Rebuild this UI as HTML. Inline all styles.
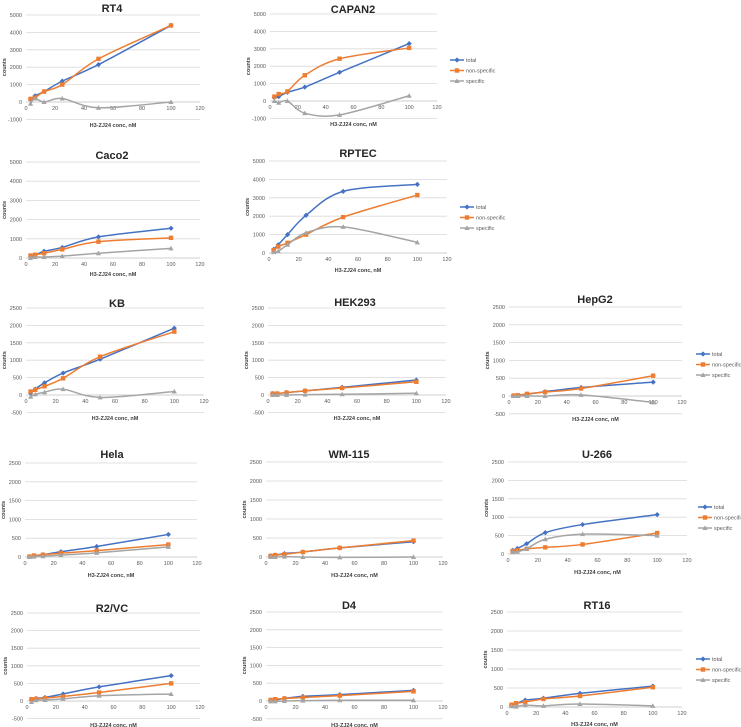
<!DOCTYPE html>
<html><head><meta charset="utf-8">
<style>
html,body{margin:0;padding:0;background:#fff;}
svg{display:block;font-family:"Liberation Sans",sans-serif;}
</style></head>
<body>
<svg id="c" width="741" height="727" viewBox="0 0 741 727"></svg>
<script>
const xValues = [3.125, 6.25, 12.5, 25, 50, 100];
const xTicks = [0, 20, 40, 60, 80, 100, 120];
const panelNames = ["RT4","CAPAN2","Caco2","RPTEC","KB","HEK293","HepG2","Hela","WM-115","U-266","R2/VC","D4","RT16"];
const totalRT4 = [150, 350, 600, 1200, 2150, 4400];
const nonRT4 = [180, 250, 600, 1000, 2480, 4400];
const specRT4 = [-100, 200, 0, 200, -330, 0];
const totalCAPAN2 = [200, 250, 500, 800, 1650, 3300];
const nonCAPAN2 = [250, 400, 550, 1480, 2430, 3050];
const specCAPAN2 = [0, -100, 0, -700, -800, 300];
const totalCaco2 = [100, 150, 350, 550, 1100, 1550];
const nonCaco2 = [130, 170, 250, 450, 850, 1050];
const specCaco2 = [0, 50, 50, 100, 250, 500];
const totalRPTEC = [200, 450, 1000, 2050, 3350, 3730];
const nonRPTEC = [150, 350, 550, 1000, 1950, 3150];
const specRPTEC = [50, 100, 450, 1100, 1420, 580];
const totalKB = [50, 170, 350, 630, 1030, 1920];
const nonKB = [100, 150, 250, 480, 1100, 1820];
const specKB = [-50, 20, 80, 170, -70, 100];
const totalHEK = [40, 40, 70, 120, 220, 430];
const nonHEK = [40, 40, 70, 120, 200, 380];
const specHEK = [0, 0, 0, 10, 20, 50];
const totalHepG2 = [10, 20, 50, 120, 240, 390];
const nonHepG2 = [10, 20, 60, 110, 210, 570];
const specHepG2 = [0, 0, 0, 0, 30, -180];
const totalHela = [10, 30, 60, 140, 280, 600];
const nonHela = [10, 40, 60, 100, 170, 330];
const specHela = [0, 10, 20, 50, 110, 270];
const totalWM = [30, 50, 90, 130, 240, 400];
const nonWM = [30, 50, 70, 130, 240, 430];
const specWM = [0, 0, 10, 0, -10, 0];
const totalU266 = [100, 150, 280, 580, 800, 1070];
const nonU266 = [80, 100, 140, 180, 260, 570];
const specU266 = [50, 60, 140, 400, 540, 500];
const totalR2 = [30, 70, 100, 200, 400, 720];
const nonR2 = [50, 60, 80, 130, 240, 500];
const specR2 = [-30, 20, 30, 60, 150, 200];
const totalD4 = [20, 30, 70, 130, 180, 300];
const nonD4 = [30, 50, 70, 100, 150, 270];
const specD4 = [-10, -10, 0, 10, 20, 20];
const totalRT16 = [50, 80, 180, 230, 360, 550];
const nonRT16 = [60, 100, 130, 210, 290, 520];
const specRT16 = [20, 10, 50, 30, 80, 30];
const yMaxes = [5000,5000,5000,5000,2500,2500,2500,2500,2500,2500,2500,2500,2500];
const yMins = [-1000,-1000,0,0,-500,-500,-500,0,0,0,-500,-500,0];
const yStepsArr = [1000,1000,1000,1000,500,500,500,500,500,500,500,500,500];
const seriesTotal = [totalRT4,totalCAPAN2,totalCaco2,totalRPTEC,totalKB,totalHEK,totalHepG2,totalHela,totalWM,totalU266,totalR2,totalD4,totalRT16];
const seriesNon = [nonRT4,nonCAPAN2,nonCaco2,nonRPTEC,nonKB,nonHEK,nonHepG2,nonHela,nonWM,nonU266,nonR2,nonD4,nonRT16];
const seriesSpec = [specRT4,specCAPAN2,specCaco2,specRPTEC,specKB,specHEK,specHepG2,specHela,specWM,specU266,specR2,specD4,specRT16];
const legendLabels = ["total","non-specific","specific"];

// layout (pixels)
const layout = [
 {x0:26,x1:200,yT:15,y0:102,tx:112,ty:8,at:125,leg:null},
 {x0:270,x1:437,yT:14,y0:101,tx:353,ty:9,at:124,leg:[450,60]},
 {x0:26,x1:200,yT:162,y0:258,tx:112,ty:155,at:274,leg:null},
 {x0:269,x1:447,yT:161,y0:253,tx:358,ty:153,at:270,leg:[460,207]},
 {x0:26,x1:204,yT:308,y0:395,tx:117,ty:303,at:418,leg:null},
 {x0:268,x1:446,yT:308,y0:395,tx:355,ty:302,at:418,leg:null},
 {x0:509,x1:682,yT:307,y0:396,tx:595,ty:299,at:419,leg:[696,354]},
 {x0:25,x1:197,yT:463,y0:557,tx:112,ty:454,at:575,leg:null},
 {x0:266,x1:443,yT:462,y0:557,tx:349,ty:454,at:575,leg:null},
 {x0:508,x1:687,yT:462,y0:554,tx:597,ty:454,at:572,leg:[698,507]},
 {x0:27,x1:200,yT:613,y0:701,tx:112,ty:608,at:725,leg:null},
 {x0:266,x1:443,yT:612,y0:701,tx:349,ty:605,at:725,leg:null},
 {x0:507,x1:682,yT:612,y0:707,tx:597,ty:605,at:724,leg:[696,659]}
];
const colors = ["#4472c4","#ed7d31","#a5a5a5"];
const NS = "http://www.w3.org/2000/svg";
const svg = document.getElementById("c");
function mk(tag, attrs, parent){
  const e = document.createElementNS(NS, tag);
  for (const k in attrs) e.setAttribute(k, attrs[k]);
  (parent||svg).appendChild(e);
  return e;
}
function smoothPath(pts){
  let d = "M" + pts[0][0] + "," + pts[0][1];
  for (let i=0;i<pts.length-1;i++){
    const p0 = pts[i-1]||pts[i], p1=pts[i], p2=pts[i+1], p3=pts[i+2]||p2;
    const t = 0.16;
    const c1x = p1[0]+(p2[0]-p0[0])*t, c1y = p1[1]+(p2[1]-p0[1])*t;
    const c2x = p2[0]-(p3[0]-p1[0])*t, c2y = p2[1]-(p3[1]-p1[1])*t;
    d += " C"+c1x+","+c1y+" "+c2x+","+c2y+" "+p2[0]+","+p2[1];
  }
  return d;
}
function marker(g, k, x, y){
  let m;
  if (k===0) m = mk("polygon",{points:(x)+","+(y-2.6)+" "+(x+2.6)+","+y+" "+x+","+(y+2.6)+" "+(x-2.6)+","+y,fill:colors[0]},g);
  else if (k===1) m = mk("rect",{x:x-2.2,y:y-2.2,width:4.4,height:4.4,fill:colors[1]},g);
  else m = mk("polygon",{points:x+","+(y-2.6)+" "+(x+2.6)+","+(y+2)+" "+(x-2.6)+","+(y+2),fill:colors[2]},g);
  return m;
}
panelNames.forEach((name, i) => {
  const L = layout[i];
  const ymax = yMaxes[i], ymin = yMins[i], step = yStepsArr[i];
  const sx = v => L.x0 + (v/120)*(L.x1-L.x0);
  const sy = v => L.y0 - (v/ymax)*(L.y0-L.yT);
  const g = mk("g",{});
  
  
  // gridlines + y labels
  for (let v = ymin; v <= ymax + 1e-6; v += step){
    const y = sy(v);
    const ln = mk("line",{x1:L.x0,x2:L.x1,y1:y,y2:y,stroke:v===0?"#bfbfbf":"#d9d9d9","stroke-width":0.8},g);
    
    
    const t = mk("text",{x:L.x0-4,y:y+2,"text-anchor":"end","font-size":5.5,fill:"#595959"},g);
    t.textContent = v;
    
    
  }
  xTicks.forEach(v => {
    const t = mk("text",{x:sx(v),y:sy(0)+8,"text-anchor":"middle","font-size":5.5,fill:"#595959"},g);
    t.textContent = v;
    
    
  });
  const title = mk("text",{x:L.tx,y:L.ty+4,"text-anchor":"middle","font-size":11,"font-weight":"bold",fill:"#262626"},g);
  title.textContent = name;
  
  
  const xt = mk("text",{x:(L.x0+L.x1)/2,y:L.at+2,"text-anchor":"middle","font-size":5.5,"font-weight":"bold",fill:"#404040"},g);
  xt.textContent = "H3-ZJ24 conc, nM";
  
  
  const ymid = (sy(ymin)+sy(ymax))/2;
  const yt = mk("text",{x:L.x0-20,y:ymid,"text-anchor":"middle","font-size":5.5,"font-weight":"bold",fill:"#404040",transform:"rotate(-90 "+(L.x0-20)+" "+ymid+")"},g);
  yt.textContent = "counts";
  
  
  [seriesTotal[i], seriesNon[i], seriesSpec[i]].forEach((vals, k) => {
    const pts = vals.map((v, j) => [sx(xValues[j]), sy(v)]);
    const p = mk("path",{d:smoothPath(pts),fill:"none",stroke:colors[k],"stroke-width":1.5},g);
    
    
    pts.forEach(pt => {
      const m = marker(g, k, pt[0], pt[1]);
      
      
    });
  });
  if (L.leg){
    legendLabels.forEach((lab, k) => {
      const lx = L.leg[0], ly = L.leg[1] + k*10.5;
      const lg = mk("g",{},g);
      
      
      mk("line",{x1:lx,x2:lx+14,y1:ly,y2:ly,stroke:colors[k],"stroke-width":1.5},lg);
      marker(lg, k, lx+7, ly);
      const t = mk("text",{x:lx+16,y:ly+2,"font-size":5.5,fill:"#595959"},lg);
      t.textContent = lab;
    });
  }
});
</script>
</body></html>
